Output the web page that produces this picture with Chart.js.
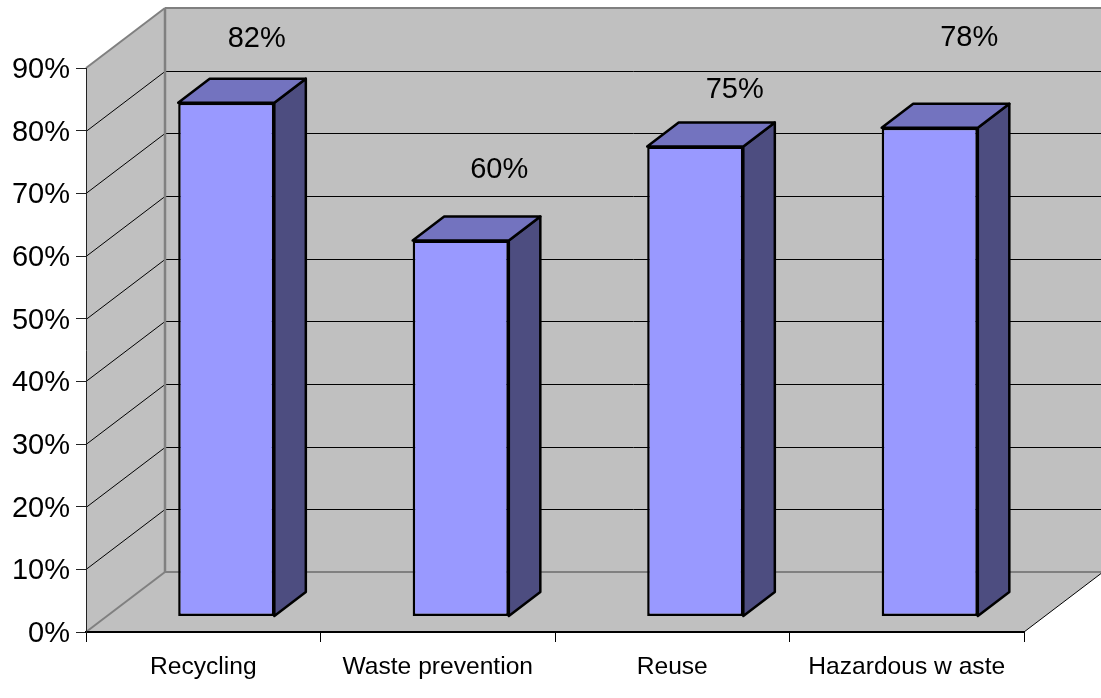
<!DOCTYPE html>
<html>
<head>
<meta charset="utf-8">
<title>Waste management rates</title>
<script src="https://cdn.jsdelivr.net/npm/chart.js@4/dist/chart.umd.min.js"></script>
<style>
    html, body { margin: 0; padding: 0; background: #fff; }
    #wrap { width: 1101px; height: 698px; overflow: hidden; }
</style>
</head>
<body>
<div id="wrap"><canvas id="rateChart" width="1101" height="698"></canvas></div>
<script>
// Chart values
const categories = ['Recycling', 'Waste prevention', 'Reuse', 'Hazardous w aste'];
const shares = [82, 60, 75, 78];
const axisMin = 0;
const axisMax = 90;
const axisStep = 10;

// Fake 3D projection, in pixels
const wallDepth = { x: 79, y: -60 };
const barShift = { x: 23, y: -15.5 };
const barDepth = { x: 31.5, y: -24 };

// Hand placement of the percent labels above each box
const labelNudgeX = [-1, 7, 8, 8];
const labelNudgeY = [-40, -47, -33, -66];

const fontFamily = '"Liberation Sans", Arial, sans-serif';

function fillPoly(ctx, points, fill, stroke, lineWidth) {
    ctx.beginPath();
    points.forEach(([x, y], i) => (i ? ctx.lineTo(x, y) : ctx.moveTo(x, y)));
    ctx.closePath();
    ctx.fillStyle = fill;
    ctx.fill();
    if (stroke) {
        ctx.strokeStyle = stroke;
        ctx.lineWidth = lineWidth;
        ctx.lineJoin = 'round';
        ctx.stroke();
    }
}

function strokeLine(ctx, x1, y1, x2, y2, color, width) {
    ctx.beginPath();
    ctx.moveTo(x1, y1);
    ctx.lineTo(x2, y2);
    ctx.strokeStyle = color;
    ctx.lineWidth = width;
    ctx.stroke();
}

// Back wall, side wall, floor and their gridlines
const wallsPlugin = {
    id: 'walls',
    beforeDraw(chart) {
        const { ctx, chartArea, scales } = chart;
        const { left, right } = chartArea;
        const y0 = scales.y.getPixelForValue(axisMin);
        const yTop = scales.y.getPixelForValue(axisMax);
        const dx = wallDepth.x;
        const dy = wallDepth.y;
        const wallColor = '#c0c0c0';
        const edgeColor = '#808080';

        ctx.save();
        fillPoly(ctx, [[left + dx, yTop + dy], [right + dx, yTop + dy], [right + dx, y0 + dy], [left + dx, y0 + dy]], wallColor);
        fillPoly(ctx, [[left, yTop], [left + dx, yTop + dy], [left + dx, y0 + dy], [left, y0]], wallColor);
        fillPoly(ctx, [[left, y0], [left + dx, y0 + dy], [right + dx, y0 + dy], [right, y0]], wallColor);

        for (let v = axisMin + axisStep; v < axisMax; v += axisStep) {
            const y = Math.round(scales.y.getPixelForValue(v)) + 0.5;
            strokeLine(ctx, left, y, left + dx, y + dy, '#000', 1);
            strokeLine(ctx, left + dx, y + dy, right + dx, y + dy, '#000', 1);
        }

        strokeLine(ctx, left, yTop, left + dx, yTop + dy, edgeColor, 2);
        strokeLine(ctx, left + dx, yTop + dy, right + dx, yTop + dy, edgeColor, 2);
        strokeLine(ctx, left + dx, yTop + dy, left + dx, y0 + dy, edgeColor, 2.5);
        strokeLine(ctx, left, y0, left + dx, y0 + dy, edgeColor, 2);
        strokeLine(ctx, left + dx, y0 + dy, right + dx, y0 + dy, edgeColor, 2);
        strokeLine(ctx, right, y0, right + dx, y0 + dy, '#000', 1);
        ctx.restore();
    }
};

// Pushes the boxes back onto the floor, adds top and side faces, and writes the labels
const boxesPlugin = {
    id: 'boxes',
    beforeDatasetDraw(chart, args) {
        const { ctx } = chart;
        ctx.save();
        ctx.translate(barShift.x, barShift.y);
        args.meta.data.forEach((bar) => {
            const l = bar.x - bar.width / 2;
            const r = bar.x + bar.width / 2;
            const t = bar.y;
            const b = bar.base;
            const dx = barDepth.x;
            const dy = barDepth.y;
            fillPoly(ctx, [[r, t], [r + dx, t + dy], [r + dx, b + dy], [r, b]], '#4d4d80', '#000', 2.5);
            fillPoly(ctx, [[l, t], [l + dx, t + dy], [r + dx, t + dy], [r, t]], '#7373bf', '#000', 2.5);
        });
    },
    afterDatasetDraw(chart) {
        chart.ctx.restore();
    },
    afterDatasetsDraw(chart) {
        const { ctx } = chart;
        const bars = chart.getDatasetMeta(0).data;
        ctx.save();
        ctx.font = '29px ' + fontFamily;
        ctx.fillStyle = '#000';
        ctx.textAlign = 'center';
        ctx.textBaseline = 'middle';
        bars.forEach((bar, i) => {
            const x = bar.x + barShift.x + barDepth.x + labelNudgeX[i];
            const y = bar.y + barShift.y + barDepth.y + labelNudgeY[i];
            ctx.fillText(shares[i] + '%', x, y);
        });
        ctx.restore();
    }
};

new Chart(document.getElementById('rateChart'), {
    type: 'bar',
    data: {
        labels: categories,
        datasets: [{
            data: shares,
            backgroundColor: '#9999ff',
            borderColor: '#000',
            borderWidth: 2.5,
            borderSkipped: false,
            barPercentage: 0.41,
            categoryPercentage: 1,
            clip: false
        }]
    },
    options: {
        responsive: false,
        animation: false,
        layout: {
            autoPadding: false,
            padding: { top: 68, right: 77, bottom: 0, left: 0 }
        },
        plugins: {
            legend: { display: false },
            tooltip: { enabled: false }
        },
        scales: {
            x: {
                grid: { drawOnChartArea: false, drawTicks: true, tickLength: 10, color: '#000', lineWidth: 1 },
                border: { color: '#000', width: 2 },
                ticks: { color: '#000', padding: 10, maxRotation: 0, font: { family: fontFamily, size: 24.6 } },
                afterFit(scale) { scale.height = 66; }
            },
            y: {
                min: axisMin,
                max: axisMax,
                grid: { drawOnChartArea: false, drawTicks: true, tickLength: 10, color: '#222', lineWidth: 1 },
                border: { color: '#222', width: 1 },
                ticks: {
                    stepSize: axisStep,
                    color: '#000',
                    padding: 6,
                    labelOffset: 2,
                    font: { family: fontFamily, size: 29 },
                    callback: (v) => v + '%'
                },
                afterFit(scale) { scale.width = 86; }
            }
        }
    },
    plugins: [wallsPlugin, boxesPlugin]
});
</script>
</body>
</html>
